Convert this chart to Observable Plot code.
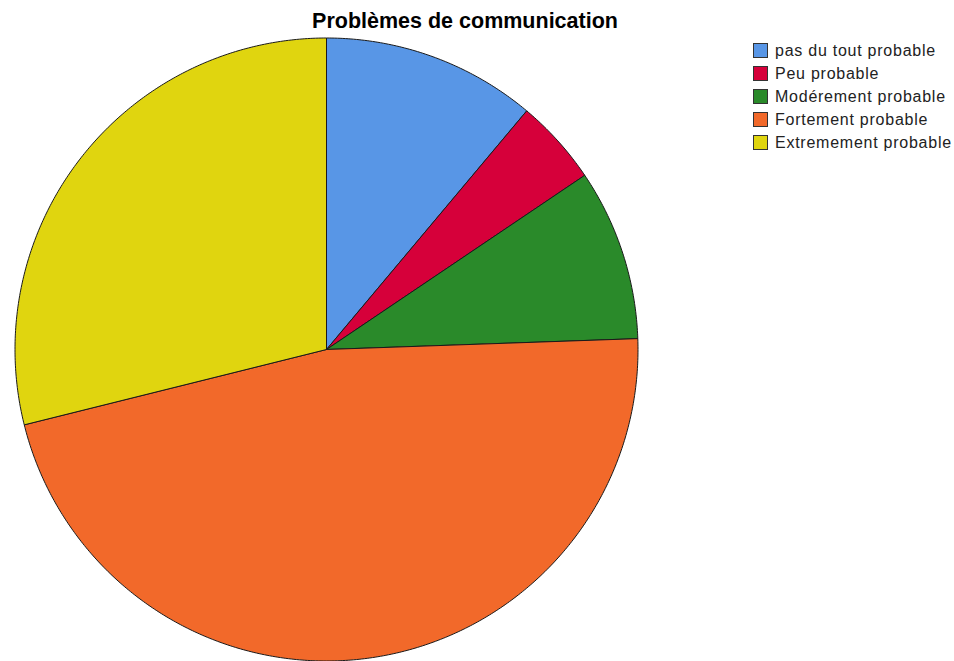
<!DOCTYPE html>
<html>
<head>
<meta charset="utf-8">
<script src="https://cdn.jsdelivr.net/npm/d3@7"></script>
<script src="https://cdn.jsdelivr.net/npm/@observablehq/plot@0.6"></script>
<style>
  html, body { margin: 0; padding: 0; background: #fff; }
  #wrap { position: relative; width: 954px; height: 661px; font-family: "Liberation Sans", Arial, sans-serif; }
  #title { position: absolute; left: 0; width: 930px; top: 9px; text-align: center; font-weight: bold; font-size: 21.5px; color: #000; }
  #legend { position: absolute; left: 753px; top: 39px; font-size: 16px; color: #222; }
  .row { display: flex; align-items: center; height: 23px; }
  .sw { width: 15px; height: 15px; border: 1px solid #333; margin-right: 7px; box-sizing: border-box; }
  .lab { letter-spacing: 0.75px; line-height: 23px; }
  #chart { position: absolute; left: 0; top: 0; }
</style>
</head>
<body>
<div id="wrap">
  <div id="chart"></div>
  <div id="title">Problèmes de communication</div>
  <div id="legend"></div>
</div>
<script>
const categories = ["pas du tout probable", "Peu probable", "Modérement probable", "Fortement probable", "Extremement probable"];
const counts = [5, 2, 4, 21, 13];
const colors = ["#5896e6", "#d6003a", "#2a8a2a", "#f2692a", "#e0d50f"];

// Build slice polygons from the counts (angles clockwise from 12 o'clock)
const total = d3.sum(counts);
const pts = [];
let acc = 0;
categories.forEach((c, i) => {
  const a0 = acc / total * 2 * Math.PI;
  acc += counts[i];
  const a1 = acc / total * 2 * Math.PI;
  pts.push({cat: c, x: 0, y: 0});
  const n = Math.max(2, Math.ceil((a1 - a0) / (Math.PI / 360)));
  for (let k = 0; k <= n; k++) {
    const a = a0 + (a1 - a0) * k / n;
    pts.push({cat: c, x: Math.sin(a), y: Math.cos(a)});
  }
  pts.push({cat: c, x: 0, y: 0});
});

const cx = 326, cy = 349, r = 311.5, W = 954, H = 661;
const chart = Plot.plot({
  width: W, height: H,
  margin: 0,
  x: {domain: [-cx / r, (W - cx) / r], range: [0, W], axis: null},
  y: {domain: [-(H - cy) / r, cy / r], range: [H, 0], axis: null},
  color: {domain: categories, range: colors},
  marks: [
    Plot.line(pts, {x: "x", y: "y", z: "cat", fill: "cat", stroke: "#1a1a1a", strokeWidth: 1, strokeLinejoin: "round"})
  ]
});
document.getElementById("chart").appendChild(chart);

const leg = document.getElementById("legend");
categories.forEach((c, i) => {
  const row = document.createElement("div");
  row.className = "row";
  const sw = document.createElement("div");
  sw.className = "sw";
  sw.style.background = colors[i];
  const lab = document.createElement("span");
  lab.className = "lab";
  lab.textContent = c;
  row.appendChild(sw); row.appendChild(lab);
  leg.appendChild(row);
});
</script>
</body>
</html>
